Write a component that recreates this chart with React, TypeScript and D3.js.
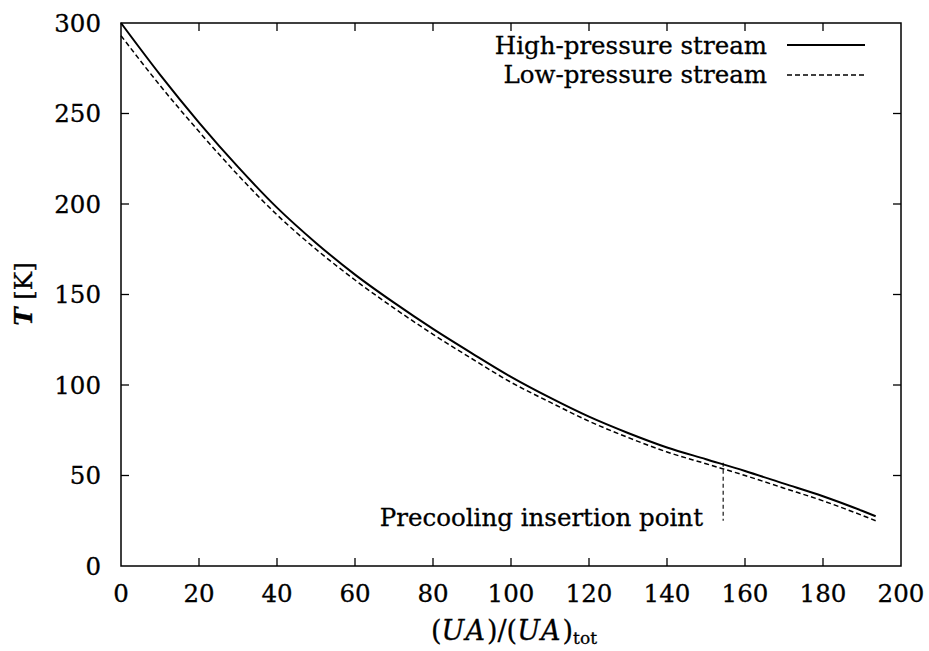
import React from "react";
import * as d3 from "d3";

const uaValues = [0, 10, 20, 30, 40, 50, 60, 70, 80, 90, 100, 110, 120, 130, 140, 150, 160, 170, 180, 190, 193.5];
const highPressureT = [300, 271.5, 245, 220.5, 198, 178.5, 161, 145.5, 131, 117.5, 104.5, 93, 82.5, 73.5, 65.5, 59, 52.5, 45.5, 38.5, 30.5, 27.5];
const lowPressureT = [293, 265.5, 240, 216, 194, 175, 158, 142.5, 128, 114.5, 101.5, 90.5, 80, 71, 63, 56.5, 50, 43, 36, 28, 25];
const xTicks = [0, 20, 40, 60, 80, 100, 120, 140, 160, 180, 200];
const yTicks = [0, 50, 100, 150, 200, 250, 300];
const seriesNames = ["High-pressure stream", "Low-pressure stream"];
const annotationText = "Precooling insertion point";
const annotationX = 154.4;
const annotationTop = 57;
const annotationBottom = 25;

const W = 929;
const H = 651;
const M = { left: 121, right: 28, top: 23, bottom: 85 };

export default function App() {
  const x = d3.scaleLinear().domain([0, 200]).range([M.left, W - M.right]);
  const y = d3.scaleLinear().domain([0, 300]).range([H - M.bottom, M.top]);
  const hp = uaValues.map((u, i) => [u, highPressureT[i]] as [number, number]);
  const lp = uaValues.map((u, i) => [u, lowPressureT[i]] as [number, number]);
  const line = d3
    .line<[number, number]>()
    .x((d) => x(d[0]))
    .y((d) => y(d[1]))
    .curve(d3.curveMonotoneX);
  const font = "'DejaVu Serif', serif";
  const fs = 24.5;
  const tick = 8;
  const x0 = x(0), x1 = x(200), y0 = y(0), y1 = y(300);
  const textProps = { fontSize: fs, fill: "#000", stroke: "#000", strokeWidth: 0.3 };
  return (
    <svg width={W} height={H} style={{ position: "absolute", left: 0, top: 0, background: "#fff" }} fontFamily={font}>
      <rect x={0} y={0} width={W} height={H} fill="#fff" />
      {xTicks.map((t) => (
        <g key={"x" + t}>
          {t > 0 && t < 200 && (
            <>
              <line x1={x(t)} x2={x(t)} y1={y0} y2={y0 - tick} stroke="#000" strokeWidth={1.3} />
              <line x1={x(t)} x2={x(t)} y1={y1} y2={y1 + tick} stroke="#000" strokeWidth={1.3} />
            </>
          )}
          <text x={x(t)} y={602} textAnchor="middle" {...textProps}>
            {t}
          </text>
        </g>
      ))}
      {yTicks.map((t) => (
        <g key={"y" + t}>
          {t > 0 && t < 300 && (
            <>
              <line x1={x0} x2={x0 + tick} y1={y(t)} y2={y(t)} stroke="#000" strokeWidth={1.3} />
              <line x1={x1} x2={x1 - tick} y1={y(t)} y2={y(t)} stroke="#000" strokeWidth={1.3} />
            </>
          )}
          <text x={101} y={y(t)} dy="0.36em" textAnchor="end" {...textProps}>
            {t}
          </text>
        </g>
      ))}
      <rect x={x0} y={y1} width={x1 - x0} height={y0 - y1} fill="none" stroke="#000" strokeWidth={1.5} />
      <path d={line(hp) || ""} fill="none" stroke="#000" strokeWidth={2} />
      <path d={line(lp) || ""} fill="none" stroke="#000" strokeWidth={1.5} strokeDasharray="5,3" />
      <line
        x1={x(annotationX)}
        x2={x(annotationX)}
        y1={y(annotationTop)}
        y2={y(annotationBottom)}
        stroke="#000"
        strokeWidth={1.1}
        strokeDasharray="4,3"
      />
      <text x={703} y={517} dy="0.36em" textAnchor="end" {...textProps}>
        {annotationText}
      </text>
      <text x={767} y={45} dy="0.36em" textAnchor="end" {...textProps}>
        {seriesNames[0]}
      </text>
      <line x1={787} x2={865} y1={45} y2={45} stroke="#000" strokeWidth={2} />
      <text x={767} y={74} dy="0.36em" textAnchor="end" {...textProps}>
        {seriesNames[1]}
      </text>
      <line x1={787} x2={865} y1={75} y2={75} stroke="#000" strokeWidth={1.5} strokeDasharray="5,3" />
      <text x={514} y={640} textAnchor="middle" {...textProps} fontSize={27}>
        (<tspan fontStyle="italic" letterSpacing={2}>UA</tspan>)/(<tspan fontStyle="italic" letterSpacing={2}>UA</tspan>)
        <tspan fontSize={17} dy={4}>tot</tspan>
      </text>
      <text transform="translate(32,294) rotate(-90)" textAnchor="middle" {...textProps}>
        <tspan fontStyle="italic" fontWeight="bold">T</tspan> [K]
      </text>
    </svg>
  );
}
